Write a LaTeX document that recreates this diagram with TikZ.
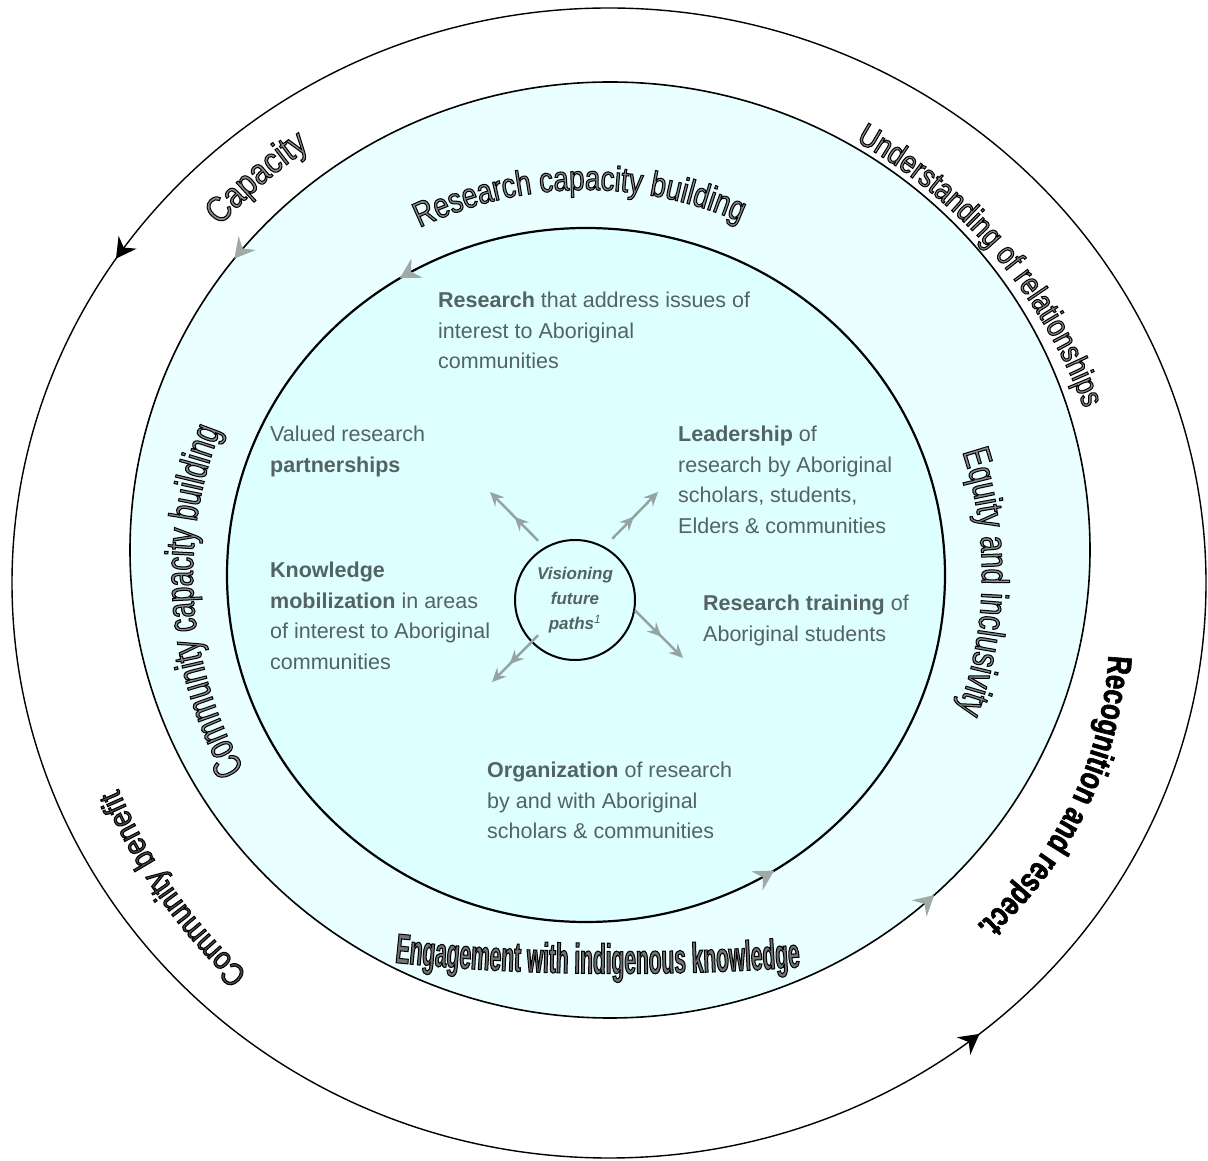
\documentclass[tikz,border=0pt]{standalone}
\usepackage{fontspec}
\setmainfont{Liberation Sans}
% condensed faces for the lettering that runs round the rings
\newfontfamily\capfont[FakeStretch=0.85]{Liberation Sans}
\newfontfamily\undfont[FakeStretch=0.83]{Liberation Sans}
\newfontfamily\recfont[FakeStretch=0.76]{Liberation Sans}
\newfontfamily\benfont[FakeStretch=0.85]{Liberation Sans}
\newfontfamily\rcbfont[FakeStretch=0.79]{Liberation Sans}
\newfontfamily\ccbfont[FakeStretch=0.69]{Liberation Sans}
\newfontfamily\eqfont[FakeStretch=0.75]{Liberation Sans}
\newfontfamily\engfont[FakeStretch=0.50]{Liberation Sans}
\usetikzlibrary{arrows.meta,decorations.text,decorations.markings}

\definecolor{ringcyan}{RGB}{234,255,255}
\definecolor{corecyan}{RGB}{222,255,255}
\definecolor{inktext}{RGB}{84,98,98}
\definecolor{flowgray}{RGB}{150,163,163}
\definecolor{tipgray}{RGB}{160,168,168}
\definecolor{glyphfill}{gray}{0.55}

% glyphs filled with the current colour and stroked in black
\newcommand\strokedglyphs[1]{\special{pdf:literal direct 2 Tr #1 w 0 G}}
\newcommand\capstyle{\fontsize{36}{36}\capfont\color{glyphfill}\strokedglyphs{1}}
\newcommand\undstyle{\fontsize{32}{32}\undfont\color{glyphfill}\strokedglyphs{1}}
\newcommand\recstyle{\fontsize{34}{34}\recfont\bfseries\color{black}\strokedglyphs{0.6}}
\newcommand\benstyle{\fontsize{32}{32}\benfont\color{black!70}\strokedglyphs{1}}
\newcommand\rcbstyle{\fontsize{35}{35}\rcbfont\color{glyphfill}\strokedglyphs{1}}
\newcommand\ccbstyle{\fontsize{40}{40}\ccbfont\color{glyphfill}\strokedglyphs{1}}
\newcommand\eqstyle{\fontsize{38}{38}\eqfont\color{glyphfill}\strokedglyphs{1}}
\newcommand\engstyle{\fontsize{42}{42}\engfont\bfseries\color{black!55}\strokedglyphs{1}}

\tikzset{
  blackhead/.tip={Stealth[length=20pt,width=22pt]},
  grayhead/.tip={Stealth[length=20pt,width=22pt,inset=7pt,color=tipgray,fill=tipgray]},
  flowhead/.tip={Stealth[length=14pt,width=13pt,inset=5pt]}
}

\begin{document}
\begin{tikzpicture}[x=1pt,y=1pt,
  itext/.style={font=\fontsize{21.5}{30.5}\selectfont, text=inktext, align=left,
    inner sep=0pt, anchor=base west},
  vis/.style={circle, draw, line width=2pt, fill=corecyan, minimum size=120pt,
    inner sep=0pt, text=inktext, align=center,
    font=\fontsize{17}{25}\selectfont\bfseries\itshape},
  flow/.style={draw=flowgray, line width=2.5pt, -flowhead,
    postaction={decorate},
    decoration={markings, mark=at position 0.55 with {\arrow{flowhead}}}},
  ringtext/.style={decorate, decoration={text along path, text align=center, text={#1}}}
]
\useasboundingbox (0,0) rectangle (1208,1160);
\coordinate (O) at (609,577);
\coordinate (M) at (610,610);
\coordinate (I) at (586,585);
\coordinate (R) at (722,526);

% outer ring with its two black heads
\draw[line width=1.4pt, postaction={decorate}, decoration={markings,
    mark=at position 0.406 with {\arrow{blackhead}},
    mark=at position 0.858 with {\arrow{blackhead}}}]
  (O) ellipse [x radius=597pt, y radius=575pt];

% middle band
\draw[line width=1.6pt, fill=ringcyan, postaction={decorate}, decoration={markings,
    mark=at position 0.394 with {\arrow{grayhead}},
    mark=at position 0.869 with {\arrow{grayhead}}}]
  (M) ellipse [x radius=480pt, y radius=468pt];

% core disc
\draw[line width=2.2pt, fill=corecyan, postaction={decorate}, decoration={markings,
    mark=at position 0.338 with {\arrow{grayhead}},
    mark=at position 0.839 with {\arrow{grayhead}}}]
  (I) ellipse [x radius=359pt, y radius=347pt];

% centre and the four paths out of it
\node[vis] (vis) at (575,560) {Visioning\\future\\paths\textsuperscript{\mdseries 1}};
\coordinate (fUL) at (490,668);
\coordinate (fUR) at (658,668);
\coordinate (fDR) at (683,502);
\coordinate (fDL) at (492,478);
\draw[flow, shorten <=9pt] (vis.120) -- (fUL);
\draw[flow, shorten <=11pt] (vis.61) -- (fUR);
\draw[flow] (vis.-10) -- (fDR);
\draw[flow, shorten <=-10pt] (vis.224) -- (fDL);

% statements inside the core (placed by the baseline of their last line)
\node[itext] (tResearch) at (438,791)
  {\textbf{Research} that address issues of\\interest to Aboriginal\\communities};
\node[itext] (tValued) at (270,687.5) {Valued research\\\textbf{partnerships}};
\node[itext] (tLead) at (678,626.5)
  {\textbf{Leadership} of\\research by Aboriginal\\scholars, students,\\Elders \& communities};
\node[itext] (tKnow) at (270,490.5)
  {\textbf{Knowledge}\\\textbf{mobilization} in areas\\of interest to Aboriginal\\communities};
\node[itext] (tTrain) at (703,518.5) {\textbf{Research training} of\\Aboriginal students};
\node[itext] (tOrg) at (487,321)
  {\textbf{Organization} of research\\by and with Aboriginal\\scholars \& communities};

% lettering round the outer ring
\path[ringtext={|\capstyle|Capacity}]
  (O) ++(151:528pt) arc[start angle=151, end angle=111, radius=528pt];
\path[ringtext={|\undstyle|Understanding of relationships}]
  (O) ++(72:506pt) arc[start angle=72, end angle=9, radius=506pt];
\path[ringtext={|\recstyle|Recognition and respect.}]
  (R) ++(2:387pt) arc[start angle=2, end angle=-54, radius=387pt];
\path[ringtext={|\benstyle|Community benefit}]
  (O) ++(240:532pt) arc[start angle=240, end angle=190, radius=532pt];

% lettering round the middle band
\path[ringtext={|\rcbstyle|Research capacity building}]
  (I) ++(125:385pt) arc[start angle=125, end angle=57, radius=385pt];
\path[ringtext={|\ccbstyle|Community capacity building}]
  (I) ++(215:393pt) arc[start angle=215, end angle=153, radius=393pt];
\path[ringtext={|\eqstyle|Equity and inclusivity}]
  (I) ++(25:396pt) arc[start angle=25, end angle=-27, radius=396pt];
\path[ringtext={|\engstyle|Engagement with indigenous knowledge}]
  (380,199) .. controls (520,183) and (680,183) .. (815,194);
\end{tikzpicture}
\end{document}
